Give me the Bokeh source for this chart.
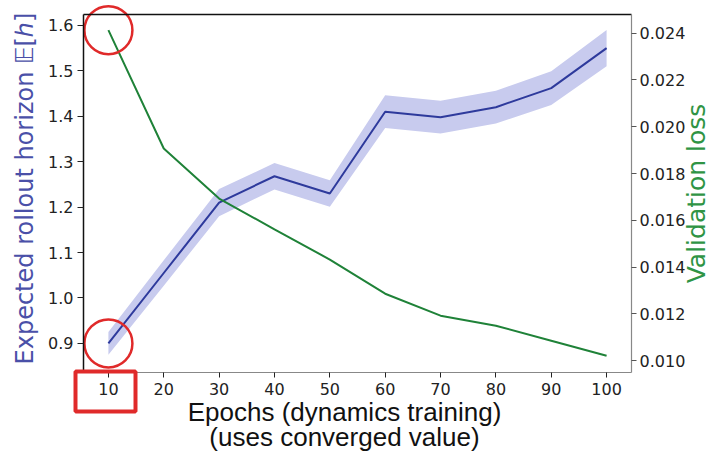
import math
from bokeh.plotting import figure
from bokeh.models import LinearAxis, Range1d, FixedTicker, NumeralTickFormatter, Label, BoxAnnotation
from bokeh.embed import file_html
from bokeh.resources import INLINE

# ---- data ----
epochs = [10, 20, 30, 40, 50, 60, 70, 80, 90, 100]
horizon_mean = [0.900, 1.055, 1.210, 1.268, 1.230, 1.410, 1.398, 1.420, 1.462, 1.550]
horizon_spread = [0.025, 0.028, 0.030, 0.029, 0.029, 0.036, 0.036, 0.036, 0.037, 0.040]
val_loss = [0.02413, 0.01907, 0.01693, 0.01561, 0.01432, 0.01286, 0.01192, 0.01149, 0.01085, 0.01021]

x_ticks = [10, 20, 30, 40, 50, 60, 70, 80, 90, 100]
left_ticks = [0.9, 1.0, 1.1, 1.2, 1.3, 1.4, 1.5, 1.6]
right_ticks = [0.010, 0.012, 0.014, 0.016, 0.018, 0.020, 0.022, 0.024]

highlight_epoch = 10

x_title_1 = "Epochs (dynamics training)"
x_title_2 = "(uses converged value)"
left_title = "Expected rollout horizon 𝔼[ℎ]"
right_title = "Validation loss"

# axis limits (as in the reference)
X0, X1 = 5.5, 104.5
Y0, Y1 = 0.836, 1.624
L0, L1 = 0.00949, 0.0248

# ---- layout (pixels) ----
W, H = 711, 451
AX_L, AX_R, AX_T, AX_B = 83, 631, 14, 372
BASE_SHIFT = 8  # Bokeh draws 'alphabetic' labels this much past the anchor

BLUE = "#2e3a9c"
BAND = "#c8cbee"
GREEN = "#1f8238"
RED = "#e02a2a"
TXT = "#222222"

px_per_x = (X1 - X0) / (AX_R - AX_L)
px_per_y = (Y1 - Y0) / (AX_B - AX_T)
px_per_l = (L1 - L0) / (AX_B - AX_T)
xs, xe = X0 - AX_L * px_per_x, X0 + (W - AX_L) * px_per_x
ys, ye = Y0 - (H - AX_B) * px_per_y, Y1 + AX_T * px_per_y
ls, le = L0 - (H - AX_B) * px_per_l, L1 + AX_T * px_per_l


def at_x(px):
    return xs + px * px_per_x


def at_y(py):
    return ye - py * px_per_y


lower = [m - s for m, s in zip(horizon_mean, horizon_spread)]
upper = [m + s for m, s in zip(horizon_mean, horizon_spread)]

p = figure(width=W, height=H, output_backend="svg", toolbar_location=None,
           x_range=Range1d(xs, xe), y_range=Range1d(ys, ye),
           min_border=0, min_border_left=0, min_border_right=0,
           min_border_top=0, min_border_bottom=0)
p.extra_y_ranges = {"loss": Range1d(ls, le)}
p.outline_line_color = None
p.grid.visible = False

# band + mean line
p.varea(x=epochs, y1=lower, y2=upper, fill_color=BAND, fill_alpha=1.0)
p.line(epochs, horizon_mean, line_color=BLUE, line_width=2)
# validation loss
p.line(epochs, val_loss, line_color=GREEN, line_width=2, y_range_name="loss")

# red highlight circles
i0 = epochs.index(highlight_epoch)
p.scatter([highlight_epoch], [val_loss[i0]], y_range_name="loss",
          marker="circle", size=48, fill_color=None, line_color=RED, line_width=2.5)
p.scatter([highlight_epoch], [horizon_mean[i0]],
          marker="circle", size=48, fill_color=None, line_color=RED, line_width=2.5)

tick_font = "DejaVu Sans"

# bottom axis (spine at the lower limit)
xa = p.xaxis[0]
xa.fixed_location = Y0
xa.bounds = (X0, X1)
xa.ticker = FixedTicker(ticks=x_ticks)
xa.major_label_text_font = tick_font
xa.major_label_text_font_size = "16px"
xa.major_label_text_color = TXT
xa.major_label_standoff = 5
xa.axis_line_color = "#888888"
xa.axis_line_width = 1.2
xa.major_tick_line_color = TXT
xa.major_tick_out = 5
xa.major_tick_in = 0
xa.minor_tick_line_color = None

# left axis
ya = p.yaxis[0]
ya.fixed_location = X0
ya.bounds = (Y0, Y1)
ya.ticker = FixedTicker(ticks=left_ticks)
ya.formatter = NumeralTickFormatter(format="0.0")
ya.major_label_text_font = tick_font
ya.major_label_text_font_size = "16px"
ya.major_label_text_color = TXT
ya.major_label_standoff = 4
ya.axis_line_color = "#111111"
ya.axis_line_width = 1.5
ya.major_tick_line_color = TXT
ya.major_tick_out = 6
ya.major_tick_in = 0
ya.minor_tick_line_color = None

# right axis
ra = LinearAxis(y_range_name="loss", ticker=FixedTicker(ticks=right_ticks),
                formatter=NumeralTickFormatter(format="0.000"))
p.add_layout(ra, "right")
ra.fixed_location = X1
ra.bounds = (L0, L1)
ra.major_label_text_font = tick_font
ra.major_label_text_font_size = "16px"
ra.major_label_text_color = TXT
ra.major_label_standoff = 3
ra.axis_line_color = "#888888"
ra.axis_line_width = 1.2
ra.major_tick_line_color = "#555555"
ra.major_tick_out = 5
ra.major_tick_in = 0
ra.minor_tick_line_color = None

# top spine
ta = LinearAxis(ticker=FixedTicker(ticks=[]), major_tick_line_color=None,
                minor_tick_line_color=None, axis_line_color="#111111", axis_line_width=1.5)
p.add_layout(ta, "above")
ta.fixed_location = Y1
ta.bounds = (X0, X1)

# red box round the first tick label
p.add_layout(BoxAnnotation(left=at_x(75), right=at_x(135), top=at_y(371), bottom=at_y(411),
                           fill_color=None, fill_alpha=0, line_color=RED, line_alpha=1.0,
                           line_width=4))

# titles (baseline positions in reference pixels)
p.add_layout(Label(x=at_x(344), y=at_y(419 - BASE_SHIFT), text=x_title_1,
                   text_font="Liberation Sans", text_font_size="26px", text_color="#111111",
                   text_align="center", text_baseline="alphabetic"))
p.add_layout(Label(x=at_x(344), y=at_y(444 - BASE_SHIFT), text=x_title_2,
                   text_font="Liberation Sans", text_font_size="26px", text_color="#111111",
                   text_align="center", text_baseline="alphabetic"))
p.add_layout(Label(x=at_x(32 - BASE_SHIFT), y=at_y(188), text=left_title, angle=math.pi / 2,
                   text_font="DejaVu Sans", text_font_size="24px", text_color="#4a50a8",
                   text_align="center", text_baseline="alphabetic"))
p.add_layout(Label(x=at_x(704 - BASE_SHIFT), y=at_y(193), text=right_title, angle=math.pi / 2,
                   text_font="DejaVu Sans", text_font_size="25px", text_color="#2f9444",
                   text_align="center", text_baseline="alphabetic"))

open("out.html", "w").write(file_html(p, INLINE))
